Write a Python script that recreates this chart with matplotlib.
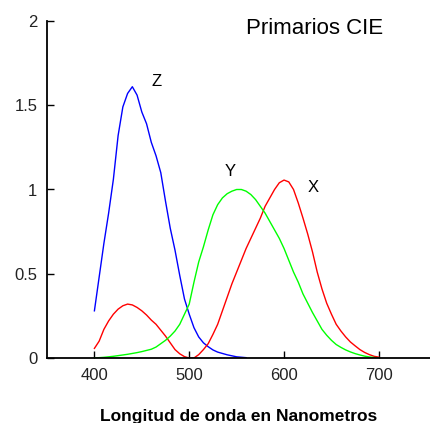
import matplotlib
matplotlib.use('Agg')
import matplotlib.pyplot as plt

# wavelengths (nm) and curve values
wl_z = [400, 405, 410, 415, 420, 425, 430, 435, 440, 445, 450, 455, 460, 465,
        470, 475, 480, 485, 490, 495, 500, 505, 510, 515, 520, 525, 530, 540,
        550, 560]
z_bar = [0.28, 0.48, 0.68, 0.86, 1.06, 1.32, 1.49, 1.57, 1.61, 1.56, 1.46,
         1.39, 1.28, 1.20, 1.10, 0.93, 0.77, 0.64, 0.49, 0.35, 0.26, 0.18,
         0.125, 0.09, 0.067, 0.048, 0.035, 0.019, 0.007, 0.002]

wl_xy = list(range(400, 705, 5))
x_bar = [0.057, 0.10, 0.17, 0.22, 0.26, 0.29, 0.31, 0.32, 0.315, 0.30, 0.28,
         0.255, 0.225, 0.20, 0.165, 0.13, 0.09, 0.05, 0.025, 0.008, 0.0, 0.0,
         0.02, 0.05, 0.085, 0.14, 0.20, 0.28, 0.36, 0.44, 0.51, 0.58, 0.65,
         0.71, 0.77, 0.83, 0.90, 0.95, 1.00, 1.04, 1.056, 1.045, 1.00, 0.92,
         0.83, 0.735, 0.63, 0.51, 0.41, 0.325, 0.26, 0.20, 0.16, 0.125, 0.095,
         0.072, 0.05, 0.033, 0.02, 0.01, 0.005]
y_bar = [0.0, 0.002, 0.004, 0.007, 0.01, 0.014, 0.018, 0.022, 0.027, 0.032,
         0.038, 0.045, 0.052, 0.065, 0.085, 0.105, 0.13, 0.16, 0.20, 0.26,
         0.32, 0.45, 0.57, 0.66, 0.76, 0.85, 0.91, 0.95, 0.975, 0.99, 1.0,
         1.0, 0.99, 0.97, 0.94, 0.90, 0.86, 0.81, 0.76, 0.71, 0.65, 0.58,
         0.51, 0.45, 0.38, 0.325, 0.27, 0.22, 0.17, 0.135, 0.105, 0.08, 0.063,
         0.048, 0.036, 0.026, 0.018, 0.011, 0.006, 0.003, 0.0]

x_ticks = [400, 500, 600, 700]
y_ticks = [0, 0.5, 1, 1.5, 2]
y_tick_labels = ['0', '0.5', '1', '1.5', '2']

plt.rcParams['font.family'] = ['Liberation Sans', 'DejaVu Sans']

fig = plt.figure(figsize=(4.31, 4.23), dpi=100)
ax = fig.add_axes([47 / 431, 65 / 423, 1 - 47 / 431, 337 / 423])

ax.plot(wl_z, z_bar, color='#0000ff', lw=1.0)
ax.plot(wl_xy, x_bar, color='#ff0000', lw=1.0)
ax.plot(wl_xy, y_bar, color='#00ff00', lw=1.0)

ax.set_xlim(350, 755)
ax.set_ylim(0, 2)
ax.set_xticks(x_ticks)
ax.set_yticks(y_ticks)
ax.set_yticklabels(y_tick_labels)
ax.tick_params(direction='in', length=5, width=1, labelsize=12,
               labelcolor='#222222', pad=7)
for side in ['top', 'right']:
    ax.spines[side].set_visible(False)
for side in ['left', 'bottom']:
    ax.spines[side].set_linewidth(1.3)

# curve names and title
ax.text(465.8, 1.638, 'Z', fontsize=12, ha='center', va='center')
ax.text(543.7, 1.104, 'Y', fontsize=12, ha='center', va='center')
ax.text(630.5, 1.009, 'X', fontsize=12, ha='center', va='center')
ax.text(632.6, 1.923, 'Primarios CIE', fontsize=16, ha='center', va='baseline')

fig.text(238.5 / 431, 2 / 423, 'Longitud de onda en Nanometros',
         fontsize=12.5, fontweight='bold', ha='center', va='baseline')

fig.savefig('out.png', dpi=100)
